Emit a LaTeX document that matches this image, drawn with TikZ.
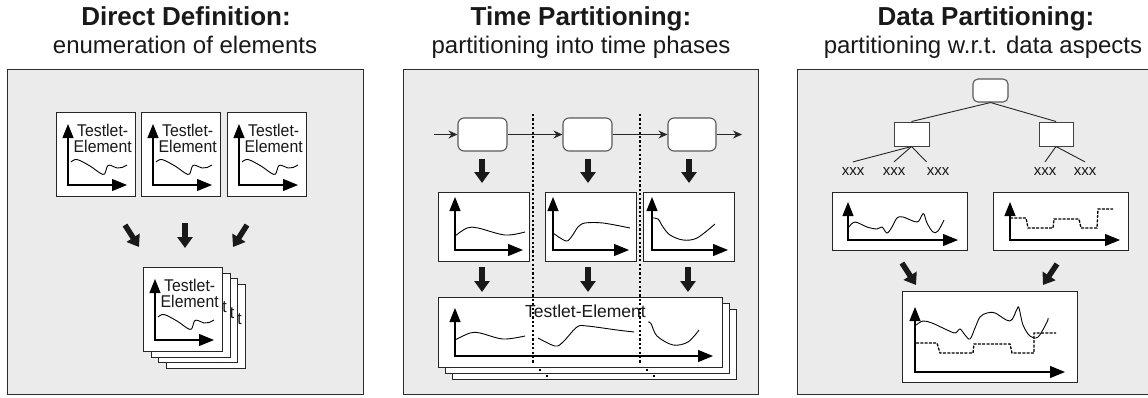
\documentclass[tikz,border=0pt]{standalone}
\usepackage{fontspec}
\setmainfont{Liberation Sans}
\usetikzlibrary{arrows.meta}
\definecolor{bg}{RGB}{235,235,235}
\definecolor{frame}{RGB}{45,45,45}
\newcommand\ttlfnt{\fontsize{26}{30}\selectfont\bfseries}
\newcommand\subfnt{\fontsize{24}{28}\selectfont}
\newcommand\tfnt{\fontsize{17}{18}\selectfont}
\newcommand\bigfnt{\fontsize{17.5}{20}\selectfont}
\newcommand\xfnt{\fontsize{15}{16}\selectfont}
\newcommand\narrow[1]{\scalebox{0.93}[1]{#1}}
\tikzset{
  panel/.style={fill=bg, draw=frame, line width=1.2pt, inner sep=0pt, anchor=north west},
  chartbox/.style={fill=white, draw=black!85, line width=1pt, inner sep=0pt},
  procbox/.style={fill=white, draw=black!65, line width=1.1pt, rounded corners=6pt, inner sep=0pt},
  leafbox/.style={fill=white, draw=black!75, line width=1pt, inner sep=0pt},
  axes/.style={line width=1.1pt, line join=miter, arrows={Triangle[length=14pt,width=11pt]-Triangle[length=15pt,width=12pt]}},
  curve/.style={line width=0.9pt, smooth, tension=0.55},
  bigarrow/.style={line width=5.5pt, black!90, -{Triangle[length=11pt,width=15pt]}},
  flow/.style={line width=1pt, black!85, -{Stealth[length=9pt,width=8pt,inset=3pt]}},
  sep/.style={line width=1.6pt, dash pattern=on 2.2pt off 2.2pt},
  stepline/.style={line width=1.3pt, dash pattern=on 3pt off 1.3pt},
  tree/.style={line width=0.9pt, black!85},
  txt/.style={inner sep=0pt, text=black!90},
}
% chart frame of a testlet element (box, axes, curve)
\newcommand\testletframe{%
  \node[chartbox, minimum width=79pt, minimum height=84pt, anchor=north west] (box) at (56,112) {};
  \draw[axes] (68,124) -- (68,185) -- (127,185);
  \draw[curve] plot coordinates {(71,162) (77,159.5) (90,166) (100,173) (104.5,174) (107.5,166) (111,165.5) (117,168) (122,167.5) (127,165)};
}
% its two text lines
\newcommand\testlettext{%
  \node[txt, font=\tfnt, anchor=base west] (ta) at (77,136) {\narrow{Testlet-}};
  \node[txt, font=\tfnt, anchor=base west] (tb) at (73.5,152) {\narrow{Element}};
}
% only the last letter that peeks out behind a stacked box
\newcommand\testletpeek{%
  \node[txt, font=\tfnt, anchor=base west] (tp) at (127.6,152) {\narrow{t}};
}
\newcommand\bigboxframe{%
  \node[chartbox, minimum width=284pt, minimum height=70pt, anchor=north west] (bb) at (438,297) {};
  \draw[axes] (455,308) -- (455,356) -- (713,356);
}
\newcommand\bigboxcurves{%
  \draw[curve] plot coordinates {(455,340) (470,333) (480,333) (503,339) (525,336)};
  \draw[curve] plot coordinates {(538,338) (555,346) (563,342) (577,327) (587,326) (617,330) (634,332)};
  \draw[curve] plot coordinates {(648,322) (651,323.5) (657,336) (673,345) (688,342) (699,330)};
}
\begin{document}
\begin{tikzpicture}[x=1pt, y=-1pt]
\useasboundingbox (0,0) rectangle (1148,397);
% ---------- titles ----------
\node[txt, font=\ttlfnt, anchor=base] (T1) at (186,25) {Direct Definition:};
\node[txt, font=\subfnt, anchor=base] (S1) at (185,53) {enumeration of elements};
\node[txt, font=\ttlfnt, anchor=base] (T2) at (581,25) {Time Partitioning:};
\node[txt, font=\subfnt, anchor=base] (S2) at (581,53) {partitioning into time phases};
\node[txt, font=\ttlfnt, anchor=base] (T3) at (986,25) {Data Partitioning:};
\node[txt, font=\subfnt, anchor=base] (S3) at (983,53) {partitioning w.r.t. data aspects};
% ---------- panels ----------
\node[panel, minimum width=356pt, minimum height=325pt] (P1) at (7,69) {};
\node[panel, minimum width=355pt, minimum height=325pt] (P2) at (403,69) {};
\node[panel, minimum width=352pt, minimum height=325pt] (P3) at (797,69) {};
% ---------- panel 1 ----------
\begin{scope}[name prefix=a1-] \testletframe \testlettext \end{scope}
\begin{scope}[shift={(85,0)}, name prefix=a2-] \testletframe \testlettext \end{scope}
\begin{scope}[shift={(171,0)}, name prefix=a3-] \testletframe \testlettext \end{scope}
\begin{scope}[shift={(109.5,172.1)}, name prefix=s3-] \testletframe \testletpeek \end{scope}
\begin{scope}[shift={(102,166.4)}, name prefix=s2-] \testletframe \testletpeek \end{scope}
\begin{scope}[shift={(94.5,160.7)}, name prefix=s1-] \testletframe \testletpeek \end{scope}
\begin{scope}[shift={(87,155)}, name prefix=s0-] \testletframe \testlettext \end{scope}
\coordinate (m1s) at (125,225); \coordinate (m1e) at (139,247);
\coordinate (m2s) at (185,223); \coordinate (m2e) at (185,248);
\coordinate (m3s) at (247,225); \coordinate (m3e) at (233,247);
\draw[bigarrow] (m1s) -- (m1e);
\draw[bigarrow] (m2s) -- (m2e);
\draw[bigarrow] (m3s) -- (m3e);
% ---------- panel 2 ----------
\node[procbox, minimum width=49pt, minimum height=33pt] (r1) at (482.5,134.5) {};
\node[procbox, minimum width=49pt, minimum height=33pt] (r2) at (587.5,134.5) {};
\node[procbox, minimum width=48pt, minimum height=33pt] (r3) at (692,134.5) {};
\coordinate (fin) at (434,134.5);
\coordinate (fout) at (742,134.5);
\draw[flow] (fin) -- (r1);
\draw[flow] (r1) -- (r2);
\draw[flow] (r2) -- (r3);
\draw[flow] (r3) -- (fout);
\node[chartbox, minimum width=91pt, minimum height=69pt, anchor=north west] (cA) at (438,192) {};
\node[chartbox, minimum width=91pt, minimum height=69pt, anchor=north west] (cB) at (545,192) {};
\node[chartbox, minimum width=91pt, minimum height=69pt, anchor=north west] (cC) at (643,192) {};
\draw[axes] (455,197) -- (455,250) -- (523,250);
\draw[axes] (553,197) -- (553,250) -- (629,250);
\draw[axes] (652,197) -- (652,250) -- (728,250);
\draw[curve] plot coordinates {(455,236) (467,228) (478,228) (505,235) (525,232)};
\draw[curve] plot coordinates {(553,233) (566,241) (572,236) (578,227) (585,223) (603,223) (630,228)};
\draw[curve] plot coordinates {(652,218) (658,219) (663,227) (670,235) (683,240) (697,238) (715,224)};
\coordinate (d1s) at (482,159); \coordinate (d1e) at (482,183);
\coordinate (d2s) at (588,159); \coordinate (d2e) at (588,183);
\coordinate (d3s) at (689,159); \coordinate (d3e) at (689,183);
\coordinate (e1s) at (482,267); \coordinate (e1e) at (482,292);
\coordinate (e2s) at (588,267); \coordinate (e2e) at (588,292);
\coordinate (e3s) at (688,267); \coordinate (e3e) at (688,292);
\draw[bigarrow] (d1s) -- (d1e);
\draw[bigarrow] (d2s) -- (d2e);
\draw[bigarrow] (d3s) -- (d3e);
\draw[bigarrow] (e1s) -- (e1e);
\draw[bigarrow] (e2s) -- (e2e);
\draw[bigarrow] (e3s) -- (e3e);
\begin{scope}[shift={(14,12)}, name prefix=g2-] \bigboxframe
  \draw[sep] (533,297) -- (533,367); \draw[sep] (640,297) -- (640,367); \end{scope}
\begin{scope}[shift={(7,6)}, name prefix=g1-] \bigboxframe
  \draw[sep] (533,297) -- (533,367); \draw[sep] (640,297) -- (640,367); \end{scope}
\begin{scope}[name prefix=g0-] \bigboxframe \bigboxcurves
  \node[txt, font=\bigfnt, anchor=base] (bt) at (585.5,317) {Testlet-Element};
\end{scope}
\coordinate (v1t) at (533,114); \coordinate (v1b) at (533,364);
\coordinate (v2t) at (640,114); \coordinate (v2b) at (640,364);
\draw[sep] (v1t) -- (v1b);
\draw[sep] (v2t) -- (v2b);
% ---------- panel 3 ----------
\node[procbox, rounded corners=5pt, minimum width=35pt, minimum height=23pt] (root) at (990.5,90.5) {};
\node[leafbox, minimum width=35pt, minimum height=24pt] (cl) at (911.5,134) {};
\node[leafbox, minimum width=34pt, minimum height=24pt] (cr) at (1056,134) {};
\draw[tree] (root.south) -- (cl.north);
\draw[tree] (root.south) -- (cr.north);
\node[txt, font=\xfnt, anchor=base, inner ysep=5pt] (x1) at (853,175) {xxx};
\node[txt, font=\xfnt, anchor=base, inner ysep=5pt] (x2) at (894,175) {xxx};
\node[txt, font=\xfnt, anchor=base, inner ysep=5pt] (x3) at (938,175) {xxx};
\node[txt, font=\xfnt, anchor=base, inner ysep=5pt] (x4) at (1045,175) {xxx};
\node[txt, font=\xfnt, anchor=base, inner ysep=5pt] (x5) at (1085,175) {xxx};
\draw[tree] (cl.south) -- (x1.north);
\draw[tree] (cl.south) -- (x2.north);
\draw[tree] (cl.south) -- (x3.north west);
\draw[tree] (cr.south) -- (x4.north);
\draw[tree] (cr.south) -- (x5.north);
\node[chartbox, minimum width=135pt, minimum height=58pt, anchor=north west] (cL) at (832,192) {};
\node[chartbox, minimum width=135pt, minimum height=58pt, anchor=north west] (cR) at (993,192) {};
\draw[axes] (848,202) -- (848,240) -- (958,240);
\draw[axes] (1010,202) -- (1010,240) -- (1120,240);
\draw[curve] plot coordinates {(849,227) (855,222) (867,227) (877,229) (882,227) (887,233) (892,227) (897,218) (903,217) (917,222) (922,215) (924,214) (927,223) (933,232) (938,231) (944,220)};
\draw[stepline] (1010,218) -- (1026,218) -- (1028,228) -- (1053,228) -- (1054,219) -- (1079,219) -- (1081,228) -- (1097,228) -- (1098,209) -- (1113,209);
\coordinate (k1s) at (902,263); \coordinate (k1e) at (916,285);
\coordinate (k2s) at (1057,264); \coordinate (k2e) at (1043,285);
\draw[bigarrow] (k1s) -- (k1e);
\draw[bigarrow] (k2s) -- (k2e);
\node[chartbox, minimum width=175pt, minimum height=91pt, anchor=north west] (cM) at (902,291) {};
\draw[axes] (915,307) -- (915,372) -- (1065,372);
\draw[curve] plot coordinates {(916,325) (923,321) (932,323) (945,329) (955,333) (960,329) (965,335) (970,339) (975,328) (980,317) (987,313) (995,313) (1010,321) (1017,309) (1019,308) (1023,325) (1030,336) (1038,337) (1047,322) (1048,318)};
\draw[stepline] (916,343) -- (937,343) -- (940,353) -- (973,353) -- (974,344) -- (1010,344) -- (1012,353) -- (1034,353) -- (1034,333) -- (1056,333);
\end{tikzpicture}
\end{document}
